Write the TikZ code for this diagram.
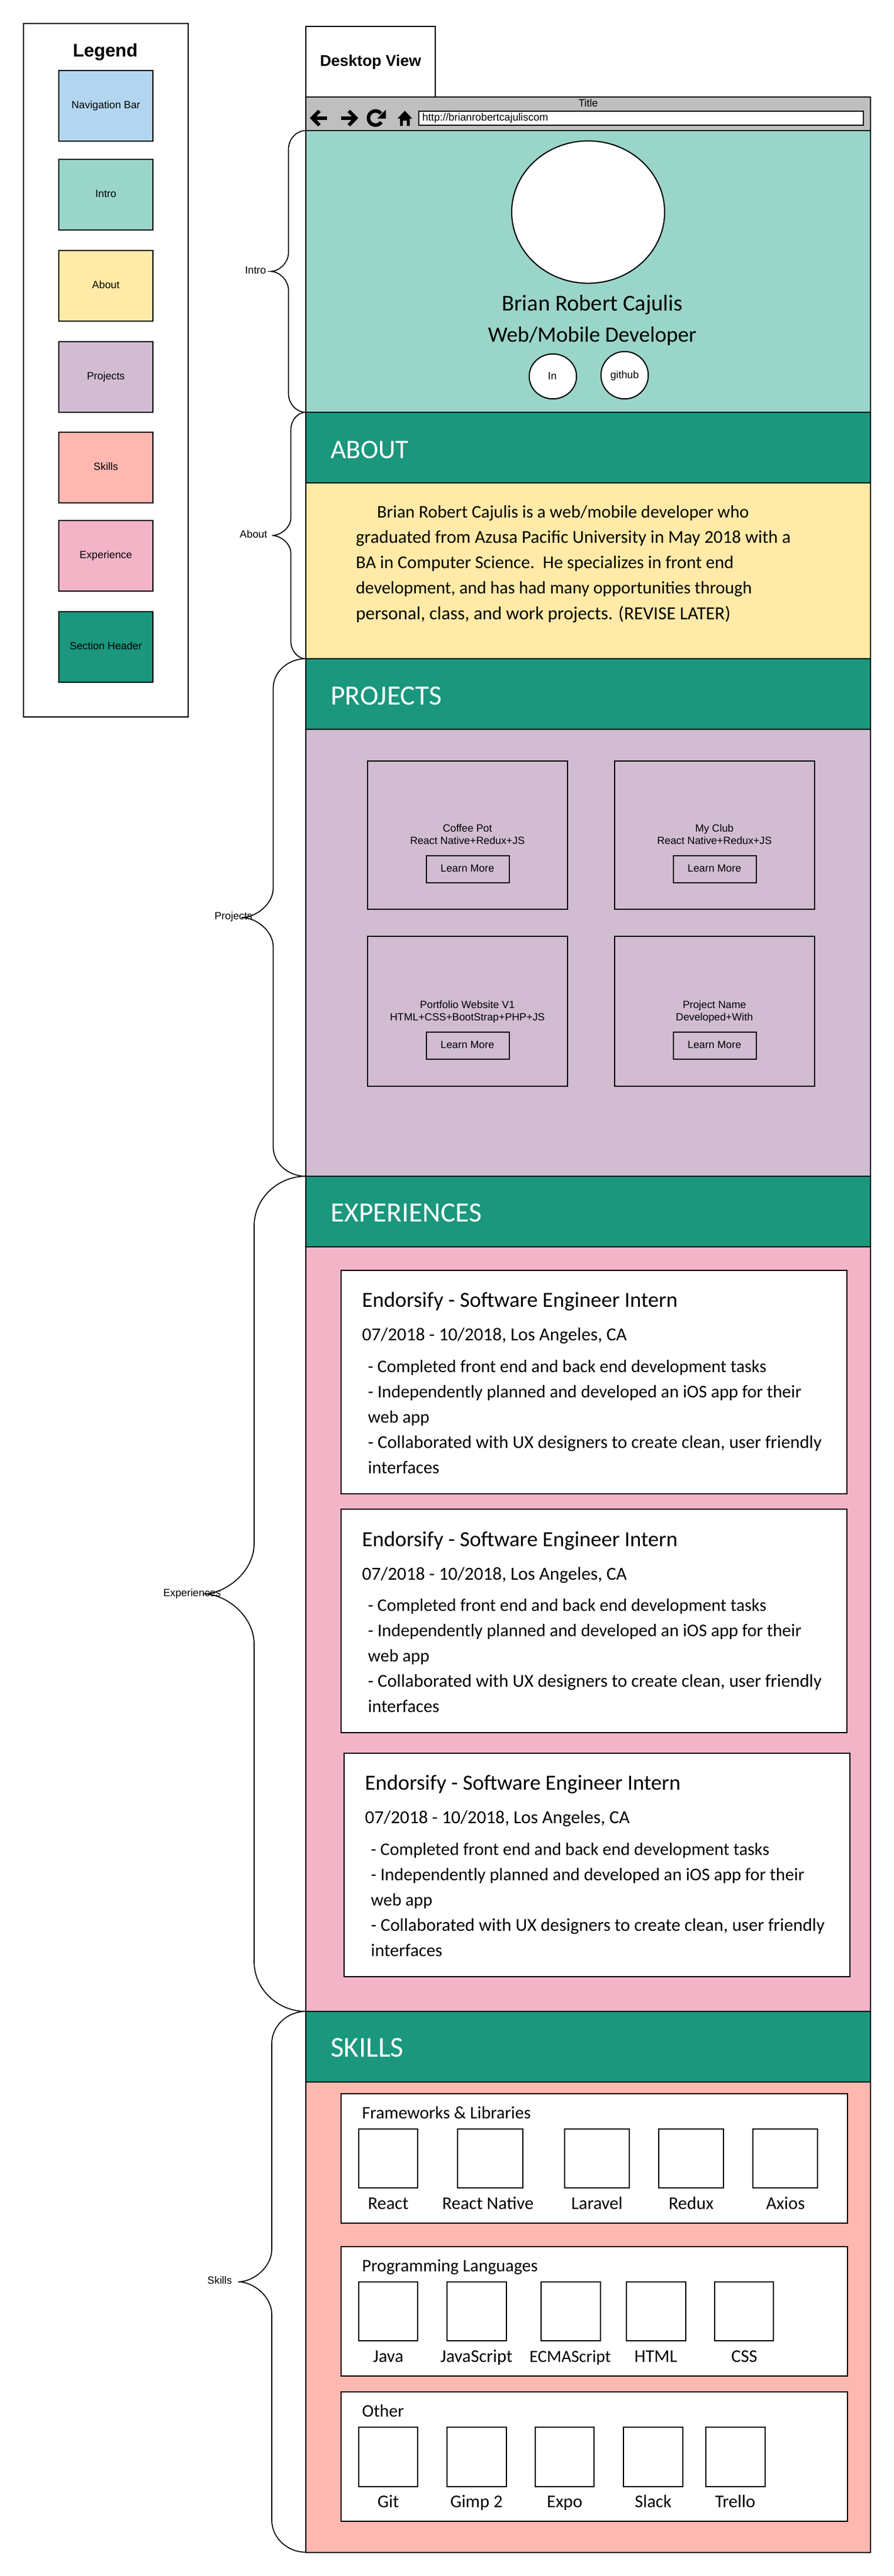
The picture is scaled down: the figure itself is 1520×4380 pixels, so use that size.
\documentclass[tikz,border=0pt]{standalone}
\usepackage{fontspec}
\setmainfont{Liberation Sans}
\newfontfamily\hand{Carlito}
\usetikzlibrary{shapes.geometric}
\definecolor{navc}{RGB}{179,214,240}
\definecolor{introc}{RGB}{154,213,201}
\definecolor{aboutc}{RGB}{255,234,167}
\definecolor{projc}{RGB}{209,188,210}
\definecolor{skillc}{RGB}{255,184,176}
\definecolor{expc}{RGB}{244,180,200}
\definecolor{headc}{RGB}{26,151,125}
\definecolor{barc}{RGB}{191,191,191}
\newcommand{\psz}[1]{\fontsize{#1}{36}\selectfont}
\tikzset{
  x=1pt,y=-1pt,
  boxed/.style={draw=black,line width=2,anchor=north west,inner sep=0,outer sep=0},
  round/.style={draw=black,line width=2,fill=white,ellipse,inner sep=0,outer sep=0},
  brace/.style={draw=black,line width=1.7,fill=none},
  lab/.style={inner sep=0,yshift=-3.5,font=\fontsize{17.8}{20}\selectfont,text=black},
  labl/.style={lab,anchor=mid west},
  big/.style={inner sep=0,yshift=-10,anchor=mid,font=\hand\fontsize{38.6}{44}\selectfont},
  head/.style={inner sep=0,yshift=-12.5,anchor=mid west,text=white,font=\hand\fontsize{47.5}{50}\selectfont},
  para/.style={inner sep=0,yshift=-7,anchor=mid west,font=\hand\fontsize{30.8}{36}\selectfont},
  ttl/.style={inner sep=0,yshift=-10,anchor=mid west,font=\hand\fontsize{36.6}{40}\selectfont},
  skl/.style={inner sep=0,yshift=-7,anchor=mid,font=\hand\fontsize{30.5}{34}\selectfont},
  grp/.style={inner sep=0,yshift=-7,anchor=mid west,font=\hand\fontsize{30}{34}\selectfont},
}
% name, x0, y0, x1, y1, extra style
\newcommand{\bx}[6]{%
  \pgfmathsetmacro{\bw}{#4-#2}\pgfmathsetmacro{\bh}{#5-#3}%
  \node[boxed,minimum width=\bw,minimum height=\bh,#6] (#1) at (#2,#3) {};}
% top anchor, bottom anchor, y0, y1, xv, xtip, ry, xr
\newcommand{\curly}[8]{%
  \pgfmathsetmacro{\ym}{(#3+#4)/2}%
  \pgfmathsetmacro{\xa}{#8-0.55*(#8-#5)}%
  \pgfmathsetmacro{\ya}{#3+0.45*#7}\pgfmathsetmacro{\yb}{#3+#7}%
  \pgfmathsetmacro{\yc}{\ym-#7}\pgfmathsetmacro{\yd}{\ym-0.45*#7}%
  \pgfmathsetmacro{\xb}{#5-0.55*(#5-#6)}%
  \pgfmathsetmacro{\ye}{\ym+0.45*#7}\pgfmathsetmacro{\yf}{\ym+#7}%
  \pgfmathsetmacro{\yg}{#4-#7}\pgfmathsetmacro{\yh}{#4-0.45*#7}%
  \draw[brace] (#1) .. controls (\xa,#3) and (#5,\ya) .. (#5,\yb) -- (#5,\yc)
    .. controls (#5,\yd) and (\xb,\ym) .. (#6,\ym)
    .. controls (\xb,\ym) and (#5,\ye) .. (#5,\yf) -- (#5,\yg)
    .. controls (#5,\yh) and (\xa,#4) .. (#2);}
% project card: name, x0, y0 of card, y1 of card, button y0, unused, text1, text2
\newcommand{\pcard}[8]{%
  \pgfmathsetmacro{\cxr}{#2+340.5}\pgfmathsetmacro{\cxm}{#2+170.2}%
  \pgfmathsetmacro{\bxl}{#2+100.5}\pgfmathsetmacro{\bxr}{#2+241}%
  \pgfmathsetmacro{\byb}{#5+46.5}\pgfmathsetmacro{\byt}{#5+21.5}%
  \pgfmathsetmacro{\lya}{#5-46.5}\pgfmathsetmacro{\lyb}{#5-25.5}%
  \bx{#1}{#2}{#3}{\cxr}{#4}{}
  \bx{#1b}{\bxl}{#5}{\bxr}{\byb}{}
  \node[lab,anchor=mid] (#1t) at (\cxm,\lya) {#7};
  \node[lab,anchor=mid] (#1u) at (\cxm,\lyb) {#8};
  \node[lab,anchor=mid] (#1l) at (\cxm,\byt) {Learn More};}
% experience card: name, x0, y0, x1
\newcommand{\ecard}[4]{%
  \pgfmathsetmacro{\eyb}{#3+380}%
  \pgfmathsetmacro{\txa}{#2+35.5}\pgfmathsetmacro{\txb}{#2+45.5}%
  \bx{#1}{#2}{#3}{#4}{\eyb}{fill=white}
  \pgfmathsetmacro{\ly}{#3+50.6}\node[ttl] (#1a) at (\txa,\ly) {Endorsify - Software Engineer Intern};
  \pgfmathsetmacro{\ly}{#3+110.6}\node[para] (#1b) at (\txa,\ly) {\psz{31.2}07/2018 - 10/2018, Los Angeles, CA};
  \pgfmathsetmacro{\ly}{#3+164}\node[para] (#1c) at (\txb,\ly) {\psz{30.1}- Completed front end and back end development tasks};
  \pgfmathsetmacro{\ly}{#3+207}\node[para] (#1d) at (\txb,\ly) {\psz{30.3}- Independently planned and developed an iOS app for their};
  \pgfmathsetmacro{\ly}{#3+250}\node[para] (#1e) at (\txb,\ly) {\psz{30}web app};
  \pgfmathsetmacro{\ly}{#3+293}\node[para] (#1f) at (\txb,\ly) {\psz{30.8}- Collaborated with UX designers to create clean, user friendly};
  \pgfmathsetmacro{\ly}{#3+336}\node[para] (#1g) at (\txb,\ly) {\psz{30.4}interfaces};}
% skill: name, x0, x1, y0, label cx, text
\newcommand{\skillitem}[6]{%
  \pgfmathsetmacro{\syb}{#4+100.5}\pgfmathsetmacro{\syl}{#4+127}%
  \bx{#1}{#2}{#4}{#3}{\syb}{fill=white}
  \node[skl] (#1t) at (#5,\syl) {#6};}
\begin{document}
\begin{tikzpicture}
\useasboundingbox[fill=white] (0,0) rectangle (1520,4380);
% Legend
\bx{legend}{40}{40}{320}{1219}{}
\node[lab,anchor=mid,yshift=-5,font=\bfseries\fontsize{31}{34}\selectfont] (legendt) at (179,85) {Legend};
\bx{lnav}{100}{119.5}{260}{239.5}{fill=navc}
\node[lab,anchor=mid] (lnavt) at (180,178) {Navigation Bar};
\bx{lintro}{100}{270.5}{260}{390.5}{fill=introc}
\node[lab,anchor=mid] (lintrot) at (180,329) {Intro};
\bx{labout}{100}{425.5}{260}{545.5}{fill=aboutc}
\node[lab,anchor=mid] (laboutt) at (180,484) {About};
\bx{lproj}{100}{580.5}{260}{700.5}{fill=projc}
\node[lab,anchor=mid] (lprojt) at (180,639) {Projects};
\bx{lskill}{100}{735}{260}{855}{fill=skillc}
\node[lab,anchor=mid] (lskillt) at (180,793) {Skills};
\bx{lexp}{100}{885}{260}{1005}{fill=expc}
\node[lab,anchor=mid] (lexpt) at (180,943) {Experience};
\bx{lhead}{100}{1040}{260}{1160}{fill=headc}
\node[lab,anchor=mid] (lheadt) at (180,1098) {Section Header};
% Tab
\bx{tab}{520}{45}{740}{165}{}
\node[lab,anchor=mid,yshift=-5,font=\bfseries\fontsize{26.5}{30}\selectfont] (tabt) at (630,101) {Desktop View};
% Browser bar
\bx{bar}{520}{165}{1480}{222}{fill=barc}
\node[lab,anchor=mid] (bart) at (1000,175) {Title};
\bx{url}{712}{189}{1467.5}{212.5}{fill=white}
\node[labl] (urlt) at (718,199) {http://brianrobertcajuliscom};
% Icons
\draw[line width=6,line join=miter] (556,200.7) -- (533,200.7);
\draw[line width=6] (543,188.5) -- (531,200.7) -- (543,213);
\draw[line width=6] (580,200.7) -- (603,200.7);
\draw[line width=6] (593,188.5) -- (605,200.7) -- (593,213);
\draw[line width=6,domain=40:325,samples=40,variable=\t] plot ({638.5+12*cos(\t)},{200.7-12*sin(\t)});
\fill (656,186.5) -- (656,201.5) -- (641.5,201.5) -- cycle;
\fill (688.3,188.3) -- (701,201.7) -- (696.7,201.7) -- (696.7,214) -- (691.7,214) -- (691.7,205) -- (685,205) -- (685,214) -- (680,214) -- (680,201.7) -- (675.7,201.7) -- cycle;
% Intro
\bx{intro}{520}{222}{1480}{701}{fill=introc}
\node[round,minimum width=260,minimum height=242] (photo) at (1000,360.6) {};
\node[big] (iname) at (1007,515.5) {Brian Robert Cajulis};
\node[big] (irole) at (1007,569) {\fontsize{37.2}{44}\selectfont Web/Mobile Developer};
\node[round,minimum width=80.5,minimum height=76.5] (inlink) at (940,640) {};
\node[lab,anchor=mid] (inlinkt) at (939,639) {In};
\node[round,minimum width=80.5,minimum height=80.5] (gh) at (1062,638) {};
\node[lab,anchor=mid] (ght) at (1062,637) {github};
% About
\bx{abouth}{520}{701}{1480}{821}{fill=headc}
\node[head] (aboutt) at (562,764) {\fontsize{45.6}{50}\selectfont ABOUT};
\bx{aboutb}{520}{821}{1480}{1120}{fill=aboutc}
\node[para] (ab1) at (641,871) {\psz{30.15}Brian Robert Cajulis is a web/mobile developer who};
\node[para] (ab2) at (605,914) {\psz{30.8}graduated from Azusa Pacific University in May 2018 with a};
\node[para] (ab3) at (605,957) {\psz{30.6}BA in Computer Science.\ \ He specializes in front end};
\node[para] (ab4) at (605,1000) {\psz{30}development, and has had many opportunities through};
\node[para] (ab5) at (605,1044) {\psz{31.4}personal, class, and work projects. (REVISE LATER)};
% Projects
\bx{projh}{520}{1120}{1480}{1240}{fill=headc}
\node[head] (projt) at (562,1183) {PROJECTS};
\bx{projb}{520}{1240}{1480}{2000}{fill=projc}
\pcard{pa}{624.5}{1294}{1546}{1454.5}{}{Coffee Pot}{React Native+Redux+JS}
\pcard{pb}{1044.5}{1294}{1546}{1454.5}{}{My Club}{React Native+Redux+JS}
\pcard{pc}{624.5}{1592}{1847}{1754.5}{}{Portfolio Website V1}{HTML+CSS+BootStrap+PHP+JS}
\pcard{pd}{1044.5}{1592}{1847}{1754.5}{}{Project Name}{Developed+With}
% Experiences
\bx{exph}{520}{2000}{1480}{2120}{fill=headc}
\node[head] (expt) at (562,2062.5) {EXPERIENCES};
\bx{expb}{520}{2120}{1480}{3420}{fill=expc}
\ecard{ea}{580}{2159.5}{1440}
\ecard{eb}{580}{2566}{1440}
\ecard{ec}{585}{2980.5}{1445}
% Skills
\bx{skillh}{520}{3420}{1480}{3540}{fill=headc}
\node[head] (skillt) at (562,3482.5) {\fontsize{49}{50}\selectfont SKILLS};
\bx{skillb}{520}{3540}{1480}{4339.5}{fill=skillc}
\bx{ga}{579.5}{3560}{1440.5}{3779.5}{fill=white}
\node[grp] (gat) at (615.5,3592.5) {Frameworks \& Libraries};
\skillitem{s1}{609.5}{710}{3619.5}{660}{React}
\skillitem{s2}{777.5}{888.5}{3619.5}{829.5}{React Native}
\skillitem{s3}{959.5}{1070}{3619.5}{1015}{Laravel}
\skillitem{s4}{1120}{1230}{3619.5}{1175}{Redux}
\skillitem{s5}{1280}{1390}{3619.5}{1335.5}{Axios}
\bx{gb}{579.5}{3820}{1440.5}{4040}{fill=white}
\node[grp] (gbt) at (615.5,3852.5) {Programming Languages};
\skillitem{s6}{609.5}{710}{3879.5}{660}{Java}
\skillitem{s7}{760}{860.5}{3879.5}{810}{JavaScript}
\skillitem{s8}{920}{1020.5}{3879.5}{969.5}{\fontsize{29}{34}\selectfont ECMAScript}
\skillitem{s9}{1065}{1165.5}{3879.5}{1115}{HTML}
\skillitem{s10}{1214.5}{1315}{3879.5}{1265.5}{CSS}
\bx{gc}{579.5}{4067}{1440.5}{4287}{fill=white}
\node[grp] (gct) at (615.5,4099.5) {Other};
\skillitem{s11}{609.5}{710}{4127}{660}{Git}
\skillitem{s12}{760}{860.5}{4127}{810}{Gimp 2}
\skillitem{s13}{909.5}{1010}{4127}{960}{Expo}
\skillitem{s14}{1060}{1160.5}{4127}{1110.5}{Slack}
\skillitem{s15}{1200}{1300.5}{4127}{1250}{Trello}
% Braces
\curly{intro.north west}{intro.south west}{222}{701}{490.5}{460.5}{32}{520}
\node[lab,anchor=mid] (bintro) at (434.5,459.5) {Intro};
\curly{abouth.north west}{aboutb.south west}{701}{1120}{494.5}{462.5}{30}{520}
\node[lab,anchor=mid] (babout) at (431,908.5) {About};
\curly{projh.north west}{projb.south west}{1120}{2000}{464.5}{411}{50}{520}
\node[lab,anchor=mid] (bproj) at (397,1557) {Projects};
\curly{exph.north west}{expb.south west}{2000}{3420}{432}{346}{85}{520}
\node[lab,anchor=mid] (bexp) at (326.5,2708) {Experiences};
\curly{skillh.north west}{skillb.south west}{3420}{4339.5}{462}{405}{55}{520}
\node[lab,anchor=mid] (bskill) at (373.5,3877.5) {Skills};
\end{tikzpicture}
\end{document}
